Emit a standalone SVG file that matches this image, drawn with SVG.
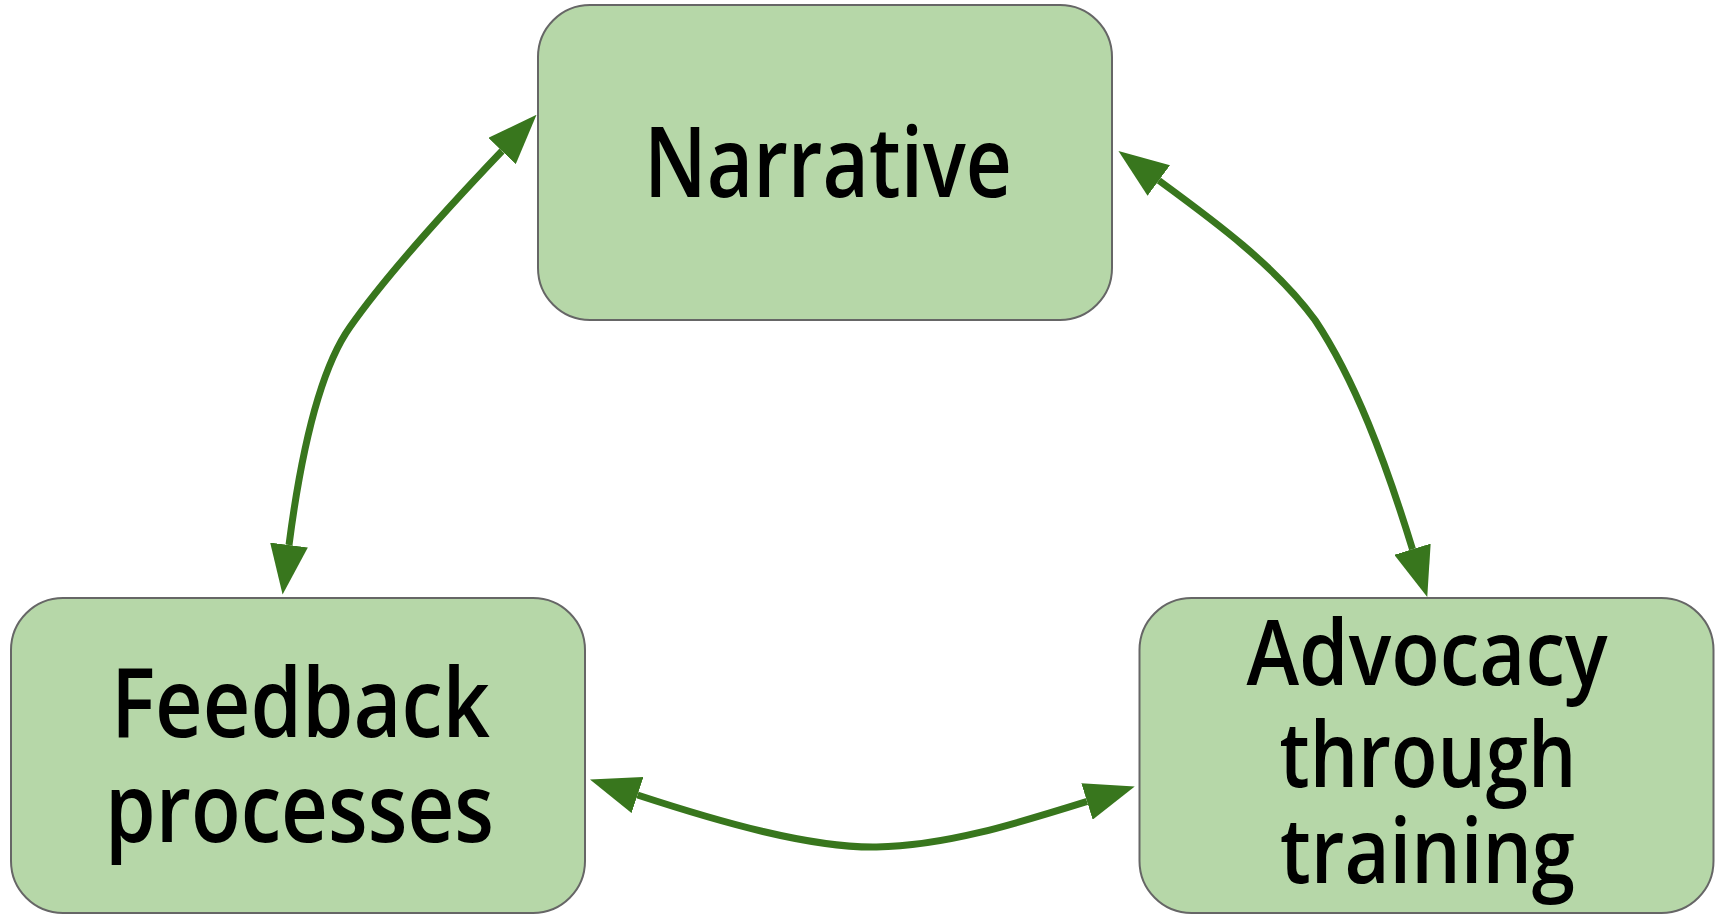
<svg xmlns="http://www.w3.org/2000/svg" width="1718" height="915" viewBox="0 0 1718 915">
<style>
.box{fill:#b6d7a8;stroke:#666666;stroke-width:2}
.lbl{font-family:"Open Sans","Noto Sans",sans-serif;font-weight:600;fill:#000000;text-anchor:middle}
.conn{fill:none;stroke:#38761d;stroke-width:7;marker-start:url(#ah);marker-end:url(#ah)}
</style>
<defs>
<marker id="ah" markerUnits="userSpaceOnUse" markerWidth="50" markerHeight="38" refX="0" refY="19" orient="auto-start-reverse" viewBox="0 0 50 38">
<path d="M0,0 L50,19 L0,38 Z" fill="#38761d"/>
</marker>
</defs>
<rect width="1718" height="915" fill="#ffffff"/>
<g id="connectors">
<path class="conn" d="M502,151 C460,195 390,270 350,327 C318,372 300,460 289,545"/>
<path class="conn" d="M1158.8,180.5 C1210,218 1275,265 1315,320 C1355,380 1385,460 1412.5,549.2"/>
<path class="conn" d="M637.5,795 C720,822 810,848 876.5,847 C945,846 1015,824 1087,801.5"/>
</g>
<g id="narrative">
<rect class="box" x="538" y="5" width="574" height="315" rx="52"/>
<text class="lbl" x="828" y="197" font-size="98" textLength="368" lengthAdjust="spacingAndGlyphs">Narrative</text>
</g>
<g id="feedback">
<rect class="box" x="11" y="598" width="574" height="315" rx="52"/>
<text class="lbl" x="300.5" y="737" font-size="96" textLength="379" lengthAdjust="spacingAndGlyphs">Feedback</text>
<text class="lbl" x="299.5" y="842" font-size="96" textLength="389" lengthAdjust="spacingAndGlyphs">processes</text>
</g>
<g id="advocacy">
<rect class="box" x="1139.5" y="598" width="574" height="315" rx="52"/>
<text class="lbl" x="1427" y="685" font-size="90" textLength="361" lengthAdjust="spacingAndGlyphs">Advocacy</text>
<text class="lbl" x="1428" y="787" font-size="90" textLength="297" lengthAdjust="spacingAndGlyphs">through</text>
<text class="lbl" x="1427.5" y="883" font-size="90" textLength="295" lengthAdjust="spacingAndGlyphs">training</text>
</g>
</svg>
